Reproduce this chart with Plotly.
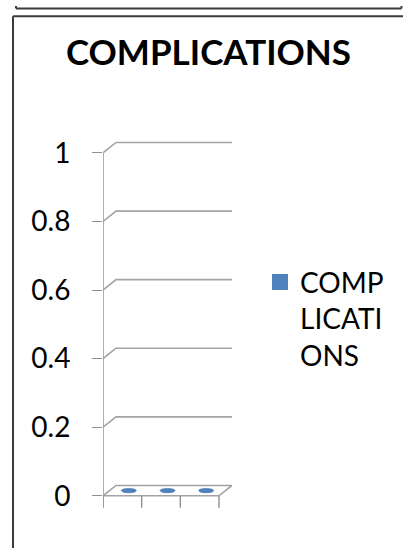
import plotly.graph_objects as go

# ---- data -------------------------------------------------------------
categories = ["1", "2", "3"]
complications = [0, 0, 0]
tick_values = [0, 0.2, 0.4, 0.6, 0.8, 1]
tick_labels = ["0", "0.2", "0.4", "0.6", "0.8", "1"]
chart_title = "COMPLICATIONS"
legend_text = "COMP<br>LICATI<br>ONS"

# ---- style ------------------------------------------------------------
W, H = 403, 550
FONT = "Lato, 'Open Sans', sans-serif"
BLUE = "#4F81BD"
GRID = "#a3a3a3"
AXIS = "#8f8f8f"
FRAME = "#3c3c3c"

# pseudo-3D geometry (pixels)
left_px = 103          # front-left corner of the plot box
cat_px = 38.67         # width of one category slot
zero_px = 497          # pixel row of value 0 on the front plane
unit_px = 348          # pixels per 1.0 of value
depth_dx_px, depth_dy_px = 13, 10.5

n = len(categories)
xs = list(range(n))
ddx = depth_dx_px / cat_px
ddy = depth_dy_px / unit_px
x_lo, x_hi = -0.5, n - 0.5 + ddx
y_lo, y_hi = -0.04, max(tick_values) + ddy + 0.006

x_dom = [left_px / W, (left_px + (x_hi - x_lo) * cat_px) / W]
y_dom = [(H - (zero_px - y_lo * unit_px)) / H, (H - (zero_px - y_hi * unit_px)) / H]

fig = go.Figure()

# legend entry for the series
fig.add_trace(go.Scatter(
    x=[None], y=[None], mode="markers", name=legend_text,
    marker=dict(symbol="square", size=17, color=BLUE),
))

shapes = []
xa, xb = x_lo, n - 0.5

# side-wall + back-wall gridlines
for t in tick_values[1:]:
    shapes.append(dict(
        type="path", xref="x", yref="y",
        path=f"M {xa},{t} L {xa + ddx},{t + ddy} L {xb + ddx},{t + ddy}",
        line=dict(color=GRID, width=1.6),
    ))

# floor
shapes.append(dict(
    type="path", xref="x", yref="y",
    path=(f"M {xa},0 L {xb},0 L {xb + ddx},{ddy} "
          f"L {xa + ddx},{ddy} Z"),
    line=dict(color=GRID, width=1.6), fillcolor="rgba(0,0,0,0)",
))

# vertical value axis line
tick_drop = 0.035
shapes.append(dict(
    type="line", xref="x", yref="y",
    x0=xa, x1=xa, y0=-tick_drop, y1=max(tick_values),
    line=dict(color=AXIS, width=1.4),
))

# category boundary ticks below the floor
for k in range(n + 1):
    bx = xa + k
    shapes.append(dict(
        type="line", xref="x", yref="y",
        x0=bx, x1=bx, y0=0, y1=-tick_drop,
        line=dict(color=AXIS, width=1.4),
    ))

# column tops (zero-height cylinders show as flat ellipses)
a = 7.5 / cat_px
b = 2.2 / unit_px
for x, v in zip(xs, complications):
    cx = x + ddx / 2
    cy = v + ddy / 2
    shapes.append(dict(
        type="circle", xref="x", yref="y",
        x0=cx - a, x1=cx + a, y0=cy - b, y1=cy + b,
        fillcolor=BLUE, line=dict(color="#3d6ea8", width=0.6),
    ))

# outer frame lines
def py(p):
    return 1 - p / H

def px(p):
    return p / W

for seg in [
    (16, 0, 16, 2.5), (16, 2.5, 401.5, 2.5), (401.5, 0, 401.5, 2.5),
    (13, 10.3, 403, 10.3), (13, 10.3, 13, 550),
]:
    shapes.append(dict(
        type="line", xref="paper", yref="paper",
        x0=px(seg[0]), y0=py(seg[1]), x1=px(seg[2]), y1=py(seg[3]),
        line=dict(color=FRAME, width=2),
    ))

fig.update_layout(
    width=W, height=H,
    margin=dict(l=0, r=0, t=0, b=0),
    paper_bgcolor="white", plot_bgcolor="white",
    font=dict(family=FONT, color="black"),
    title=dict(
        text=f"<b>{chart_title}</b>",
        font=dict(family=FONT, size=35, color="black"),
        x=208.5 / W, xanchor="center", xref="paper",
        y=py(47), yanchor="middle", yref="paper",
    ),
    xaxis=dict(
        range=[x_lo, x_hi], domain=x_dom, visible=False, fixedrange=True,
    ),
    yaxis=dict(
        range=[y_lo, y_hi], domain=y_dom, anchor="x",
        tickvals=tick_values, ticktext=tick_labels,
        ticks="outside", ticklen=10, tickwidth=1.4, tickcolor=AXIS,
        ticklabelstandoff=16,
        tickfont=dict(family=FONT, size=28, color="black"),
        showgrid=False, zeroline=False, showline=False, fixedrange=True,
    ),
    showlegend=True,
    legend=dict(
        x=px(260), xanchor="left", y=py(255), yanchor="top",
        valign="top", borderwidth=0, bgcolor="rgba(0,0,0,0)",
        font=dict(family=FONT, size=28, color="black"),
    ),
    shapes=shapes,
)

fig.write_html("out.html")
